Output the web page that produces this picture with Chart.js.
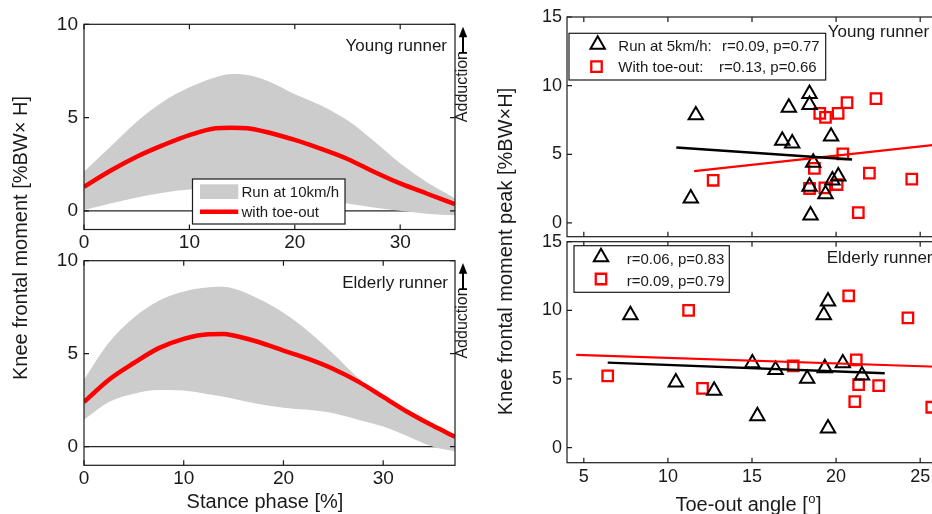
<!DOCTYPE html>
<html>
<head>
<meta charset="utf-8">
<title>Knee frontal moment and toe-out</title>
<script src="https://cdn.jsdelivr.net/npm/chart.js@4.4.1/dist/chart.umd.min.js"></script>
<style>
  html, body { margin: 0; padding: 0; background: #fff; overflow: hidden; width: 932px; height: 514px; }
  canvas { position: absolute; left: 0; top: 0; }
</style>
</head>
<body>
<canvas id="young" width="960" height="514"></canvas>
<canvas id="elderly" width="960" height="514"></canvas>
<canvas id="youngPeak" width="960" height="514"></canvas>
<canvas id="elderlyPeak" width="960" height="514"></canvas>
<script>
// ---- Knee frontal moment over stance phase (%BW×H) ----
const phaseYoung      = [0, 2.5, 5, 7.5, 10, 12.5, 14, 15.5, 17.5, 20, 22.5, 25, 27.5, 30, 32.5, 35.2];
const youngRunUpper   = [2.09, 3.43, 4.78, 5.85, 6.62, 7.16, 7.33, 7.28, 6.95, 6.25, 5.65, 4.85, 3.75, 2.55, 1.55, 0.68];
const youngRunLower   = [0.05, 0.39, 0.72, 0.97, 1.14, 1.2, 1.2, 1.15, 1.02, 0.85, 0.62, 0.4, 0.18, 0.0, -0.15, -0.24];
const youngToeOut     = [1.29, 2.15, 2.9, 3.52, 4.06, 4.43, 4.46, 4.43, 4.2, 3.8, 3.32, 2.78, 2.1, 1.47, 0.93, 0.36];

const phaseElderly    = [0, 2.5, 5, 7.5, 10, 12.5, 14, 15, 17.5, 20, 22.5, 25, 27.5, 30, 32.5, 35, 37.2];
const elderlyRunUpper = [3.6, 5.6, 6.95, 7.85, 8.35, 8.57, 8.6, 8.5, 7.95, 7.2, 6.2, 5.0, 3.7, 2.76, 1.92, 1.19, 0.6];
const elderlyRunLower = [1.45, 2.4, 2.85, 3.05, 3.02, 2.82, 2.68, 2.58, 2.3, 2.1, 1.98, 1.8, 1.45, 1.08, 0.55, 0.0, -0.25];
const elderlyToeOut   = [2.4, 3.6, 4.5, 5.3, 5.8, 6.05, 6.06, 5.98, 5.63, 5.17, 4.72, 4.18, 3.5, 2.68, 1.85, 1.12, 0.53];

const zeroLevel = [0, 0];

// ---- Peak knee frontal moment vs toe-out angle ----
const youngRunAngle = [11.66, 11.36, 17.19, 16.8, 17.39, 18.42, 18.42, 19.7, 18.64, 18.42, 19.37, 18.48, 20.13, 19.78];
const youngRunPeak  = [7.85, 1.8, 8.4, 6.0, 5.8, 9.4, 8.6, 6.3, 4.4, 2.65, 2.1, 0.55, 3.4, 3.1];
const youngToeAngle = [12.69, 19.03, 19.37, 20.12, 20.65, 22.37, 20.4, 18.71, 18.42, 19.33, 20.06, 21.98, 21.32, 24.5];
const youngToePeak  = [3.11, 7.98, 7.69, 7.98, 8.76, 9.05, 5.04, 3.97, 2.51, 2.55, 2.8, 3.63, 0.75, 3.19];
const youngRunFitX  = [10.5, 20.95];
const youngRunFitY  = [5.5, 4.62];
const youngToeFitX  = [11.56, 26];
const youngToeFitY  = [3.77, 5.71];

const elderlyRunAngle = [7.77, 10.47, 12.75, 15.02, 15.32, 16.4, 18.28, 19.27, 19.52, 19.33, 19.52, 20.4, 21.54];
const elderlyRunPeak  = [9.65, 4.75, 4.15, 6.15, 2.3, 5.67, 5.02, 9.65, 10.66, 5.79, 1.41, 6.15, 5.26];
const elderlyToeAngle = [6.42, 11.23, 12.06, 17.45, 20.75, 21.2, 21.34, 21.11, 22.53, 24.27, 25.69];
const elderlyToePeak  = [5.23, 10.0, 4.31, 5.95, 11.06, 6.39, 4.58, 3.35, 4.51, 9.45, 2.94];
const elderlyRunFitX  = [6.42, 22.89];
const elderlyRunFitY  = [6.19, 5.42];
const elderlyToeFitX  = [4.55, 26];
const elderlyToeFitY  = [6.75, 5.89];

// ---- Tick labels ----
const stanceTicks = [0, 10, 20, 30];
const momentTicks = [0, 5, 10];
const angleTicks  = [5, 10, 15, 20, 25];
const peakTicks   = [0, 5, 10, 15];

// ---- Styling ----
const INK  = '#1a1a1a';
const GREY = '#cccccc';
const RED  = '#ff0000';
const FONT = "'Liberation Sans', Arial, sans-serif";
const W = 960, H = 514;

Chart.defaults.font.family = FONT;
Chart.defaults.color = INK;

const pts = (xs, ys) => xs.map((x, i) => ({ x, y: ys[i] }));
const fixedAxis = (size) => (scale) => { if (scale.isHorizontal()) scale.height = size; else scale.width = size; };
const setTicks = (values) => (scale) => { scale.ticks = values.map(v => ({ value: v })); };

function vText(ctx, s, x, y) {
  ctx.save();
  ctx.translate(x, y);
  ctx.rotate(-Math.PI / 2);
  ctx.textAlign = 'center';
  ctx.textBaseline = 'middle';
  ctx.fillText(s, 0, 0);
  ctx.restore();
}

// Box, inward tick marks, panel caption, legend and direction arrow
const decor = {
  id: 'decor',
  afterDatasetsDraw(chart, args, o) {
    const { ctx, chartArea: a, scales: { x, y } } = chart;
    ctx.save();
    ctx.strokeStyle = INK;
    ctx.lineWidth = 1.2;
    ctx.strokeRect(a.left, a.top, a.right - a.left, a.bottom - a.top);
    const t = o.tickLen;
    ctx.beginPath();
    x.ticks.forEach(tk => {
      const px = x.getPixelForValue(tk.value);
      ctx.moveTo(px, a.bottom); ctx.lineTo(px, a.bottom - t);
      ctx.moveTo(px, a.top); ctx.lineTo(px, a.top + t);
    });
    y.ticks.forEach(tk => {
      const py = y.getPixelForValue(tk.value);
      ctx.moveTo(a.left, py); ctx.lineTo(a.left + t, py);
      ctx.moveTo(a.right, py); ctx.lineTo(a.right - t, py);
    });
    ctx.stroke();

    // caption
    ctx.fillStyle = INK;
    ctx.font = `17px ${FONT}`;
    ctx.textBaseline = 'middle';
    ctx.textAlign = o.caption.align;
    ctx.fillText(o.caption.text, o.caption.x, o.caption.y);

    // legend
    if (o.legend) {
      const L = o.legend;
      ctx.fillStyle = '#ffffff';
      ctx.fillRect(L.box[0], L.box[1], L.box[2], L.box[3]);
      ctx.strokeStyle = INK;
      ctx.lineWidth = 1.2;
      ctx.strokeRect(L.box[0], L.box[1], L.box[2], L.box[3]);
      ctx.font = `15px ${FONT}`;
      ctx.textAlign = 'left';
      ctx.textBaseline = 'middle';
      L.items.forEach(it => {
        const ds = chart.data.datasets[it.ds];
        if (it.kind === 'band') {
          ctx.fillStyle = ds.backgroundColor;
          ctx.fillRect(it.sx, it.sy, it.sw, it.sh);
        } else if (it.kind === 'line') {
          ctx.strokeStyle = ds.borderColor;
          ctx.lineWidth = ds.borderWidth;
          ctx.beginPath(); ctx.moveTo(it.x1, it.ly); ctx.lineTo(it.x2, it.ly); ctx.stroke();
        } else {
          ctx.strokeStyle = ds.borderColor;
          ctx.fillStyle = 'rgba(0,0,0,0)';
          ctx.lineWidth = ds.pointBorderWidth;
          Chart.helpers.drawPoint(ctx, { pointStyle: ds.pointStyle, radius: ds.pointRadius, rotation: 0, borderWidth: ds.pointBorderWidth }, it.mx, it.my);
        }
        ctx.fillStyle = INK;
        it.texts.forEach(([s, tx, ty]) => ctx.fillText(s, tx, ty));
      });
    }

    // adduction direction marker on the right side
    if (o.adduction) {
      const ax = a.right + 8;
      ctx.fillStyle = INK;
      ctx.font = `16px ${FONT}`;
      vText(ctx, 'Adduction', ax, a.top + 62.3);
      ctx.strokeStyle = '#000';
      ctx.lineWidth = 2;
      ctx.beginPath(); ctx.moveTo(ax, a.top + 28.5); ctx.lineTo(ax, a.top + 10); ctx.stroke();
      ctx.lineWidth = 1.5;
      ctx.beginPath(); ctx.moveTo(ax - 4, a.top + 28.5); ctx.lineTo(ax + 4, a.top + 28.5); ctx.stroke();
      ctx.fillStyle = '#000';
      ctx.beginPath();
      ctx.moveTo(ax, a.top + 2.4);
      ctx.lineTo(ax - 4.2, a.top + 13);
      ctx.lineTo(ax + 4.2, a.top + 13);
      ctx.closePath(); ctx.fill();
    }
    ctx.restore();
  }
};

// Shared axis titles
const titles = {
  id: 'titles',
  afterDraw(chart) {
    const ctx = chart.ctx;
    ctx.save();
    ctx.fillStyle = INK;
    ctx.font = `20px ${FONT}`;
    vText(ctx, 'Knee frontal moment [%BW\u00D7 H]', 21, 238);
    vText(ctx, 'Knee frontal moment peak [%BW\u00D7H]', 506.5, 251.5);
    ctx.textAlign = 'center';
    ctx.textBaseline = 'alphabetic';
    ctx.fillText('Stance phase [%]', 265, 507.5);
    // Toe-out angle [°] with a raised small "o"
    const main = 'Toe-out angle [';
    ctx.font = `20px ${FONT}`;
    const w1 = ctx.measureText(main).width;
    const w3 = ctx.measureText(']').width;
    ctx.font = `13px ${FONT}`;
    const w2 = ctx.measureText('o').width;
    let x0 = 748 - (w1 + w2 + w3) / 2;
    ctx.textAlign = 'left';
    ctx.font = `20px ${FONT}`;
    ctx.fillText(main, x0, 511);
    ctx.font = `13px ${FONT}`;
    ctx.fillText('o', x0 + w1 + 0.5, 503);
    ctx.font = `20px ${FONT}`;
    ctx.fillText(']', x0 + w1 + w2 + 1, 511);
    ctx.restore();
  }
};

function baseOptions(area, xr, yr, xTicks, yTicks, tickFont, showX, decorOpts) {
  const axisW = 60, axisH = 40;
  return {
    responsive: false,
    animation: false,
    events: [],
    layout: {
      autoPadding: false,
      padding: { left: area.left - axisW, top: area.top, right: W - area.right, bottom: H - area.bottom - axisH }
    },
    plugins: { legend: { display: false }, tooltip: { enabled: false }, decor: decorOpts },
    scales: {
      x: {
        type: 'linear', min: xr[0], max: xr[1],
        afterBuildTicks: setTicks(xTicks), afterFit: fixedAxis(axisH),
        grid: { display: false, drawTicks: false }, border: { display: false },
        ticks: { display: showX, font: { size: tickFont }, padding: tickFont === 19 ? 2 : 3.5, maxRotation: 0, autoSkip: false, color: INK }
      },
      y: {
        type: 'linear', min: yr[0], max: yr[1],
        afterBuildTicks: setTicks(yTicks), afterFit: fixedAxis(axisW),
        grid: { display: false, drawTicks: false }, border: { display: false },
        ticks: { font: { size: tickFont }, padding: tickFont === 19 ? 6 : 5, autoSkip: false, color: INK }
      }
    }
  };
}

function bandChart(id, area, phase, upper, lower, toeOut, xMax, decorOpts, extraPlugins) {
  const ends = [phase[0], phase[phase.length - 1]];
  return new Chart(document.getElementById(id), {
    type: 'line',
    data: {
      datasets: [
        { label: 'zero', data: pts(ends, zeroLevel), borderColor: '#262626', borderWidth: 1.3, pointRadius: 0, order: 3, fill: false },
        { label: 'Run at 10km/h', data: pts(phase, upper), borderColor: 'rgba(0,0,0,0)', borderWidth: 0.01,
          backgroundColor: GREY, pointRadius: 0, fill: '+1', cubicInterpolationMode: 'monotone', order: 2 },
        { label: 'lower', data: pts(phase, lower), borderColor: 'rgba(0,0,0,0)', borderWidth: 0.01,
          pointRadius: 0, fill: false, cubicInterpolationMode: 'monotone', order: 2 },
        { label: 'with toe-out', data: pts(phase, toeOut), borderColor: RED, borderWidth: 4.5,
          pointRadius: 0, fill: false, cubicInterpolationMode: 'monotone', order: 1 }
      ]
    },
    options: baseOptions(area, [0, xMax], [-1, 10], stanceTicks, momentTicks, 19, true, decorOpts),
    plugins: [decor].concat(extraPlugins || [])
  });
}

function scatterChart(id, area, yMin, runX, runY, toeX, toeY, rfX, rfY, tfX, tfY, showX, decorOpts, extraPlugins) {
  return new Chart(document.getElementById(id), {
    type: 'line',
    data: {
      datasets: [
        { label: 'run', data: pts(runX, runY), showLine: false, pointStyle: 'triangle', pointRadius: 8.3,
          pointBorderWidth: 2, borderColor: '#000', pointBackgroundColor: 'rgba(0,0,0,0)', order: 2 },
        { label: 'toe', data: pts(toeX, toeY), showLine: false, pointStyle: 'rect', pointRadius: 7.4,
          pointBorderWidth: 2.3, borderColor: RED, pointBackgroundColor: 'rgba(0,0,0,0)', order: 2 },
        { label: 'run fit', data: pts(rfX, rfY), borderColor: '#000', borderWidth: 2.4, pointRadius: 0, fill: false, order: 1 },
        { label: 'toe fit', data: pts(tfX, tfY), borderColor: RED, borderWidth: 2.2, pointRadius: 0, fill: false, order: 1 }
      ]
    },
    options: baseOptions(area, [4, 26], [yMin, 15], angleTicks, peakTicks, 18, showX, decorOpts),
    plugins: [decor].concat(extraPlugins || [])
  });
}

bandChart('young', { left: 84, top: 24.3, right: 455, bottom: 229.5 },
  phaseYoung, youngRunUpper, youngRunLower, youngToeOut, 35.2, {
    tickLen: 5, adduction: true,
    caption: { text: 'Young runner', x: 447, y: 46.5, align: 'right' },
    legend: {
      box: [192.5, 179, 152.5, 45],
      items: [
        { ds: 1, kind: 'band', sx: 200, sy: 184.3, sw: 38.3, sh: 14.7, texts: [['Run at 10km/h', 241.5, 192.5]] },
        { ds: 3, kind: 'line', x1: 200, x2: 238.3, ly: 211.7, texts: [['with toe-out', 241.5, 212.8]] }
      ]
    }
  }, [titles]);

bandChart('elderly', { left: 84, top: 260.7, right: 455, bottom: 465.3 },
  phaseElderly, elderlyRunUpper, elderlyRunLower, elderlyToeOut, 37.2, {
    tickLen: 5, adduction: true,
    caption: { text: 'Elderly runner', x: 448, y: 283, align: 'right' }
  });

scatterChart('youngPeak', { left: 567, top: 17, right: 937, bottom: 236.7 }, -1,
  youngRunAngle, youngRunPeak, youngToeAngle, youngToePeak,
  youngRunFitX, youngRunFitY, youngToeFitX, youngToeFitY, false, {
    tickLen: 5, adduction: false,
    caption: { text: 'Young runner', x: 827.7, y: 32.5, align: 'left' },
    legend: {
      box: [569, 33.3, 256.7, 46.7],
      items: [
        { ds: 0, kind: 'marker', mx: 597.7, my: 44.5, texts: [['Run at 5km/h:', 618.3, 46.7], ['r=0.09, p=0.77', 722, 46.7]] },
        { ds: 1, kind: 'marker', mx: 596.5, my: 66.7, texts: [['With toe-out:', 618.3, 67.8], ['r=0.13, p=0.66', 719, 67.8]] }
      ]
    }
  });

scatterChart('elderlyPeak', { left: 567, top: 241.7, right: 937, bottom: 462.7 }, -1.1,
  elderlyRunAngle, elderlyRunPeak, elderlyToeAngle, elderlyToePeak,
  elderlyRunFitX, elderlyRunFitY, elderlyToeFitX, elderlyToeFitY, true, {
    tickLen: 5, adduction: false,
    caption: { text: 'Elderly runner', x: 826.7, y: 258.8, align: 'left' },
    legend: {
      box: [574, 245.7, 155.3, 46.6],
      items: [
        { ds: 0, kind: 'marker', mx: 601, my: 257, texts: [['r=0.06, p=0.83', 626.7, 259.5]] },
        { ds: 1, kind: 'marker', mx: 601, my: 279, texts: [['r=0.09, p=0.79', 626.7, 281.5]] }
      ]
    }
  });
</script>
</body>
</html>
